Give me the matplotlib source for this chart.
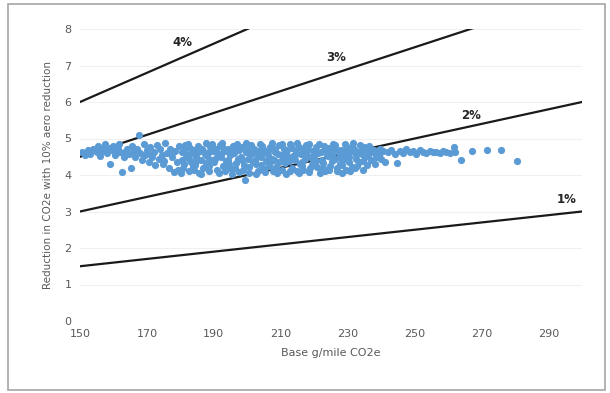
import matplotlib.pyplot as plt
from matplotlib.patches import Rectangle

# percent lines: reduction = pct * base
line_pcts = [0.01, 0.02, 0.03, 0.04]
line_labels = ['1%', '2%', '3%', '4%']
line_x = [150, 300]

# scatter (base g/mile, reduction)
base_gpm = [
    150.5, 151.5, 152.5, 153.0, 154.0, 155.0, 155.5, 156.0, 157.0, 157.5,
    158.0, 158.5, 159.0, 159.5, 160.0, 160.5, 161.0, 161.5, 162.0, 162.5,
    163.0, 164.0, 164.5, 165.2, 165.5, 166.0, 166.5, 167.0, 167.6, 168.0,
    168.5, 169.0, 169.5, 170.0, 170.5, 171.0, 171.5, 172.0, 172.5, 173.0,
    173.5, 174.0, 174.5, 175.0, 175.5, 176.0, 176.5, 177.0, 177.5, 178.0,
    178.5, 179.0, 179.5, 156.5, 161.8, 163.5, 171.2, 174.8, 177.8, 179.2,
    180.2, 180.6, 181.0, 181.3, 181.7, 180.8, 181.5, 180.4,
    182.1, 182.5, 182.9, 183.2, 183.6, 182.3, 183.8, 182.7,
    184.0, 184.4, 184.8, 185.2, 185.6, 184.6, 185.4, 184.2,
    186.1, 186.5, 186.9, 187.3, 187.7, 186.3, 187.5, 186.7,
    188.0, 188.4, 188.8, 189.2, 189.6, 188.6, 189.4, 188.2,
    190.1, 190.5, 190.9, 191.3, 191.7, 190.3, 191.5, 190.7,
    192.0, 192.4, 192.8, 193.2, 193.6, 192.6, 193.4, 192.2,
    194.1, 194.5, 194.9, 195.3, 195.7, 194.3, 195.5, 194.7,
    196.0, 196.4, 196.8, 197.2, 197.6, 196.6, 197.4, 196.2,
    198.1, 198.5, 198.9, 199.3, 199.7, 198.3, 199.5, 198.7,
    200.0, 200.4, 200.8, 201.2, 201.6, 200.6, 201.4, 200.2,
    202.1, 202.5, 202.9, 203.3, 203.7, 202.3, 203.5, 202.7,
    204.0, 204.4, 204.8, 205.2, 205.6, 204.6, 205.4, 204.2,
    206.1, 206.5, 206.9, 207.3, 207.7, 206.3, 207.5, 206.7,
    208.0, 208.4, 208.8, 209.2, 209.6, 208.6, 209.4, 208.2,
    210.1, 210.5, 210.9, 211.3, 211.7, 210.3, 211.5, 210.7,
    212.0, 212.4, 212.8, 213.2, 213.6, 212.6, 213.4, 212.2,
    214.1, 214.5, 214.9, 215.3, 215.7, 214.3, 215.5, 214.7,
    216.0, 216.4, 216.8, 217.2, 217.6, 216.6, 217.4, 216.2,
    218.1, 218.5, 218.9, 219.3, 219.7, 218.3, 219.5, 218.7,
    220.0, 220.4, 220.8, 221.2, 221.6, 220.6, 221.4, 220.2,
    222.1, 222.5, 222.9, 223.3, 223.7, 222.3, 223.5, 222.7,
    224.0, 224.4, 224.8, 225.2, 225.6, 224.6, 225.4, 224.2,
    226.1, 226.5, 226.9, 227.3, 227.7, 226.3, 227.5, 226.7,
    228.0, 228.4, 228.8, 229.2, 229.6, 228.6, 229.4, 228.2,
    230.1, 230.5, 230.9, 231.3, 231.7, 230.3, 231.5, 230.7,
    232.0, 232.4, 232.8, 233.2, 233.6, 232.6, 233.4, 232.2,
    234.1, 234.5, 234.9, 235.3, 235.7, 234.3, 235.5, 234.7,
    236.1, 236.6, 237.0, 237.5, 238.0, 236.4, 237.7, 238.3,
    239.0, 239.5, 240.0, 240.5, 241.0, 239.2,
    242.0, 243.0, 244.0, 244.7, 245.5, 246.5, 247.5, 248.5, 249.5, 250.5,
    251.5, 252.5, 253.5, 254.5, 255.5, 256.5, 257.5, 258.5, 259.5, 260.5,
    261.7, 262.2, 263.8, 267.0, 271.6, 275.8, 280.6,
]
reduction = [
    4.62, 4.55, 4.68, 4.58, 4.72, 4.62, 4.80, 4.52, 4.70, 4.85,
    4.60, 4.75, 4.30, 4.68, 4.80, 4.55, 4.62, 4.72, 4.62, 4.08,
    4.50, 4.70, 4.58, 4.19, 4.80, 4.65, 4.48, 4.72, 5.10, 4.60,
    4.40, 4.85, 4.55, 4.68, 4.35, 4.78, 4.50, 4.62, 4.28, 4.82,
    4.45, 4.70, 4.55, 4.38, 4.88, 4.60, 4.20, 4.72, 4.48, 4.08,
    4.65, 4.35, 4.80, 4.65, 4.85, 4.62, 4.55, 4.30, 4.62, 4.15,
    4.05, 4.62, 4.30, 4.82, 4.48, 4.18, 4.70, 4.40,
    4.55, 4.12, 4.75, 4.35, 4.60, 4.85, 4.22, 4.45,
    4.68, 4.28, 4.50, 4.80, 4.05, 4.38, 4.62, 4.15,
    4.42, 4.72, 4.20, 4.58, 4.88, 4.02, 4.32, 4.65,
    4.52, 4.10, 4.78, 4.40, 4.65, 4.25, 4.85, 4.60,
    4.35, 4.70, 4.15, 4.55, 4.82, 4.45, 4.05, 4.62,
    4.48, 4.88, 4.25, 4.65, 4.38, 4.75, 4.12, 4.58,
    4.72, 4.30, 4.55, 4.02, 4.80, 4.42, 4.62, 4.20,
    4.60, 4.18, 4.85, 4.45, 4.68, 4.32, 4.08, 4.75,
    4.50, 4.78, 4.28, 3.85, 4.62, 4.40, 4.88, 4.15,
    4.68, 4.22, 4.55, 4.82, 4.35, 4.05, 4.60, 4.45,
    4.72, 4.30, 4.58, 4.12, 4.85, 4.42, 4.65, 4.02,
    4.50, 4.80, 4.18, 4.62, 4.38, 4.70, 4.08, 4.28,
    4.65, 4.25, 4.78, 4.45, 4.12, 4.55, 4.88, 4.35,
    4.42, 4.70, 4.05, 4.58, 4.82, 4.22, 4.35, 4.62,
    4.55, 4.15, 4.72, 4.32, 4.60, 4.85, 4.02, 4.45,
    4.68, 4.38, 4.85, 4.20, 4.52, 4.10, 4.75, 4.48,
    4.40, 4.62, 4.12, 4.78, 4.30, 4.55, 4.05, 4.88,
    4.58, 4.25, 4.70, 4.45, 4.82, 4.15, 4.60, 4.35,
    4.72, 4.08, 4.50, 4.28, 4.65, 4.85, 4.40, 4.18,
    4.48, 4.78, 4.22, 4.60, 4.05, 4.38, 4.85, 4.68,
    4.62, 4.32, 4.80, 4.12, 4.55, 4.42, 4.70, 4.20,
    4.52, 4.15, 4.68, 4.38, 4.85, 4.25, 4.58, 4.75,
    4.45, 4.72, 4.10, 4.62, 4.30, 4.82, 4.50, 4.20,
    4.68, 4.28, 4.55, 4.85, 4.15, 4.42, 4.72, 4.05,
    4.58, 4.35, 4.78, 4.22, 4.65, 4.48, 4.88, 4.12,
    4.72, 4.45, 4.25, 4.62, 4.82, 4.55, 4.35, 4.18,
    4.65, 4.38, 4.78, 4.50, 4.28, 4.58, 4.70, 4.15,
    4.55, 4.72, 4.40, 4.62, 4.30, 4.80, 4.68, 4.50,
    4.60, 4.72, 4.45, 4.65, 4.35, 4.55,
    4.62, 4.68, 4.58, 4.33, 4.65, 4.60, 4.70, 4.62, 4.66, 4.58,
    4.68, 4.63, 4.60, 4.67, 4.62, 4.64, 4.60, 4.66, 4.62, 4.60,
    4.77, 4.62, 4.41, 4.66, 4.68, 4.68, 4.38,
]

# label positions for the percent lines
label_pos = [(295.5, 3.32), (267.0, 5.62), (226.5, 7.23), (180.5, 7.64)]

fig = plt.figure(figsize=(6.10, 3.93), dpi=100)
fig.patches.append(Rectangle((8 / 610, 3 / 393), 597 / 610, 386 / 393,
                             transform=fig.transFigure, fill=False,
                             edgecolor='#a6a6a6', linewidth=1.2))
ax = fig.add_axes([80 / 610, 72 / 393, 502 / 610, 292 / 393])

for pct in line_pcts:
    ax.plot(line_x, [pct * v for v in line_x], color='#1a1a1a', linewidth=1.6, zorder=2)

ax.scatter(base_gpm, reduction, s=27, color='#5b9bd5', linewidths=0, zorder=3)

for lab, (lx, ly) in zip(line_labels, label_pos):
    ax.text(lx, ly, lab, fontsize=8.5, fontweight='bold', color='#262626',
            ha='center', va='center')

ax.set_xlim(150, 300)
ax.set_ylim(0, 8)
ax.set_xticks(range(150, 300, 20))
ax.set_yticks(range(0, 9))
ax.grid(axis='y', color='#f0f0f0', linewidth=0.8, zorder=0)
for sp in ax.spines.values():
    sp.set_visible(False)
ax.tick_params(length=0, labelsize=8, labelcolor='#595959', pad=6)
ax.set_xlabel('Base g/mile CO2e', fontsize=8, color='#595959', labelpad=6)
ax.set_ylabel('Reduction in CO2e with 10% aero reduction', fontsize=7.5,
              color='#595959', labelpad=8)

fig.savefig('out.png', dpi=100)
